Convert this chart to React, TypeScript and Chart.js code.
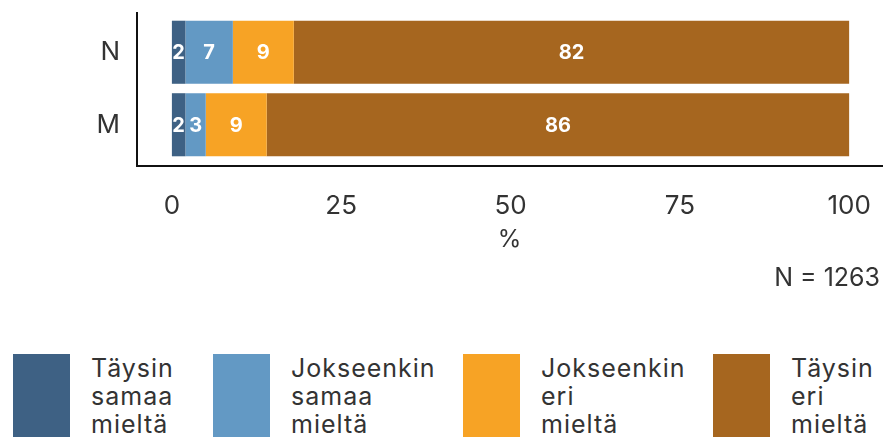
import React, { useEffect, useRef } from "react";
import { Chart, registerables } from "chart.js";

Chart.register(...registerables);

// ---- data ----
const categories = ["N", "M"];
const seriesLabels = ["Täysin samaa mieltä", "Jokseenkin samaa mieltä", "Jokseenkin eri mieltä", "Täysin eri mieltä"];
const taysinSamaa = [2, 2];
const jokseenkinSamaa = [7, 3];
const jokseenkinEri = [9, 9];
const taysinEri = [82, 86];
const seriesColors = ["#3E6184", "#6399C4", "#F7A325", "#A6661F"];
const xTickValues = [0, 25, 50, 75, 100];
const xAxisTitle = "%";
const totalNote = "N = 1263";

const FONT = "Inter, 'Open Sans', sans-serif";
const TEXT = "#333333";
const CANVAS_H = 270;

const seriesValues = [taysinSamaa, jokseenkinSamaa, jokseenkinEri, taysinEri];

const axisLinesPlugin = {
  id: "axisLines",
  afterDraw(chart: any) {
    const { ctx, chartArea } = chart;
    ctx.save();
    ctx.strokeStyle = "#111111";
    ctx.lineWidth = 2;
    ctx.beginPath();
    ctx.moveTo(chartArea.left + 1, chartArea.top - 4);
    ctx.lineTo(chartArea.left + 1, chartArea.bottom + 5);
    ctx.lineTo(chartArea.right, chartArea.bottom + 5);
    ctx.stroke();
    ctx.restore();
  },
};

const valueLabelsPlugin = {
  id: "valueLabels",
  afterDatasetsDraw(chart: any) {
    const { ctx } = chart;
    ctx.save();
    ctx.fillStyle = "#ffffff";
    ctx.font = `bold 20px ${FONT}`;
    ctx.textAlign = "center";
    ctx.textBaseline = "middle";
    chart.data.datasets.forEach((ds: any, di: number) => {
      const meta = chart.getDatasetMeta(di);
      meta.data.forEach((el: any, i: number) => {
        const v = ds.data[i];
        const { x, base, y } = el.getProps(["x", "base", "y"], true);
        ctx.fillText(String(v), (x + base) / 2, y + 1);
      });
    });
    ctx.restore();
  },
};

function ChartCanvas() {
  const ref = useRef<HTMLCanvasElement | null>(null);
  useEffect(() => {
    if (!ref.current) return;
    const chart = new Chart(ref.current, {
      type: "bar",
      data: {
        labels: categories,
        datasets: seriesLabels.map((label, i) => ({
          label,
          data: seriesValues[i],
          backgroundColor: seriesColors[i],
          borderWidth: 0,
          categoryPercentage: 1,
          barPercentage: 0.87,
        })),
      },
      options: {
        indexAxis: "y",
        animation: false,
        responsive: true,
        maintainAspectRatio: false,
        layout: { padding: { left: 0, right: 5, top: 16, bottom: 0 } },
        plugins: {
          legend: { display: false },
          tooltip: { enabled: false },
        },
        scales: {
          x: {
            type: "linear",
            stacked: true,
            min: -5.3,
            max: 105,
            grid: { display: false, drawTicks: false },
            border: { display: false },
            afterBuildTicks: (scale: any) => {
              scale.ticks = xTickValues.map((v) => ({ value: v }));
            },
            afterFit: (scale: any) => {
              scale.height = CANVAS_H - 161;
              scale.paddingLeft = 0;
              scale.paddingRight = 0;
            },
            ticks: {
              color: TEXT,
              font: { family: FONT, size: 26 },
              padding: 30,
              maxRotation: 0,
            },
            title: {
              display: true,
              text: xAxisTitle,
              color: TEXT,
              font: { family: FONT, size: 24 },
              padding: { top: 0, bottom: 16 },
            },
          },
          y: {
            stacked: true,
            grid: { display: false, drawTicks: false },
            border: { display: false },
            afterFit: (scale: any) => {
              scale.width = 136;
              scale.paddingTop = 0;
              scale.paddingBottom = 0;
            },
            ticks: {
              color: TEXT,
              font: { family: FONT, size: 26 },
              padding: 16,
            },
          },
        },
      },
      plugins: [axisLinesPlugin, valueLabelsPlugin],
    } as any);
    return () => chart.destroy();
  }, []);
  return (
    <div style={{ position: "absolute", left: 0, top: 0, width: 888, height: CANVAS_H }}>
      <canvas ref={ref} />
    </div>
  );
}

const legendItemWidths = [200, 250, 250, 175];

export default function App() {
  return (
    <div
      style={{
        position: "absolute",
        left: 0,
        top: 0,
        width: 888,
        height: 441,
        background: "#ffffff",
        fontFamily: FONT,
        color: TEXT,
        overflow: "hidden",
      }}
    >
      <ChartCanvas />
      <div style={{ position: "absolute", right: 8, top: 262, fontSize: 25 }}>{totalNote}</div>
      <div style={{ position: "absolute", left: 13, top: 354, display: "flex" }}>
        {seriesLabels.map((label, i) => (
          <div key={label} style={{ display: "flex", width: legendItemWidths[i] }}>
            <div style={{ width: 57, height: 83, background: seriesColors[i], flex: "none" }} />
            <div style={{ marginLeft: 21, marginTop: 0, fontSize: 25, lineHeight: "28px", letterSpacing: "1px" }}>
              {label.split(" ").map((w, k) => (
                <div key={k}>{w}</div>
              ))}
            </div>
          </div>
        ))}
      </div>
    </div>
  );
}
